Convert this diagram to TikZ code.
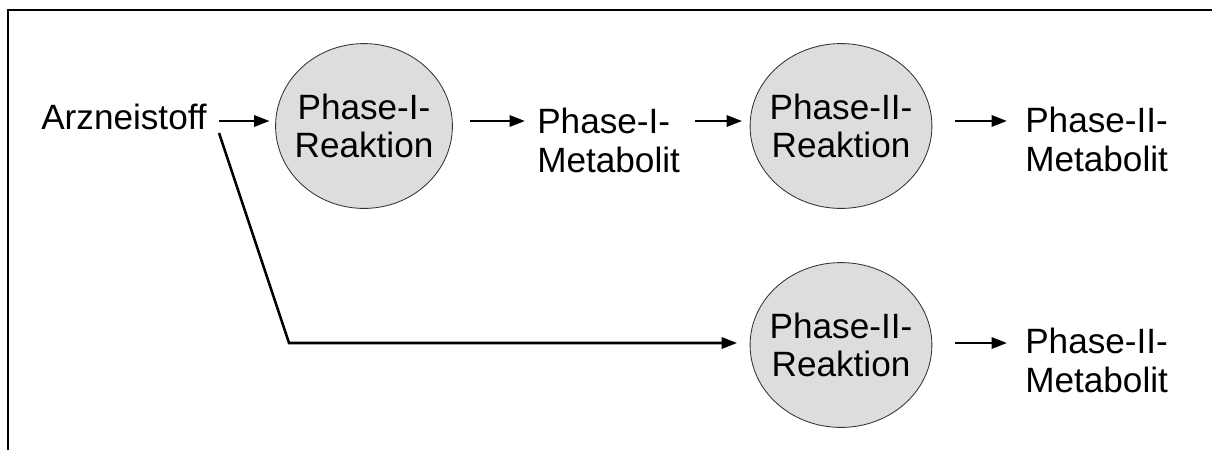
\documentclass[tikz,border=0pt]{standalone}
\usepackage{fontspec}
\setmainfont{Liberation Sans}
\usepackage{tikz}
\usetikzlibrary{arrows.meta,positioning,calc,shapes.geometric}
\definecolor{reactgray}{HTML}{DDDDDD}
\newcommand{\bigtxt}{\fontsize{25}{27.7}\selectfont}
\newcommand{\circtxt}{\fontsize{25}{26.5}\selectfont}

\begin{document}
\begin{tikzpicture}[x=0.025cm, y=-0.025cm,
  react/.style={ellipse, draw=black!80, line width=0.6pt, fill=reactgray,
    minimum width=4.42cm, minimum height=4.12cm,
    inner xsep=-5pt, inner ysep=0pt, align=center, font=\circtxt},
  txt/.style={inner sep=0pt, align=left, font=\bigtxt},
  arr/.style={-{Triangle[length=11pt,width=8pt]}, line width=1.8pt}
]
\useasboundingbox (0,0) rectangle (1212,450);

% Frame
\draw[line width=1.5pt] (8,450) -- (8,10) -- (1212,10);

% Rows of the arrows
\coordinate (row1) at (0,121);
\coordinate (row2) at (0,343);

% Upper path
\node[txt, anchor=base west] (drug) at (41,129) {Arzneistoff};
\node[react] (r1) at (364,126) {Phase-I-\\Reaktion};
\node[txt, anchor=west] (m1) at (537,140) {Phase-I-\\Metabolit};
\node[react] (r2) at (841,126) {Phase-II-\\Reaktion};
\node[txt, anchor=west] (m2) at (1025,139) {Phase-II-\\Metabolit};

% Lower path
\node[react] (r3) at (841,345) {Phase-II-\\Reaktion};
\node[txt, anchor=west] (m3) at (1025,360) {Phase-II-\\Metabolit};

% Arrows
\draw[arr, shorten <=0.3cm, shorten >=0.14cm] (drug.east |- row1) -- (r1.west |- row1);
\draw[arr, shorten <=0.44cm, shorten >=0.3cm] (r1.east |- row1) -- (m1.west |- row1);
\draw[arr, shorten <=0.375cm, shorten >=0.19cm] (m1.east |- row1) -- (r2.west |- row1);
\draw[arr, shorten <=0.565cm, shorten >=0.45cm] (r2.east |- row1) -- (m2.west |- row1);
\draw[arr, shorten >=0.315cm] ([shift={(12,4)}]drug.base east)
  -- ++(70,210) coordinate (bend) -- (bend -| r3.west);
\draw[arr, shorten <=0.565cm, shorten >=0.45cm] (r3.east |- row2) -- (m3.west |- row2);

\end{tikzpicture}
\end{document}
